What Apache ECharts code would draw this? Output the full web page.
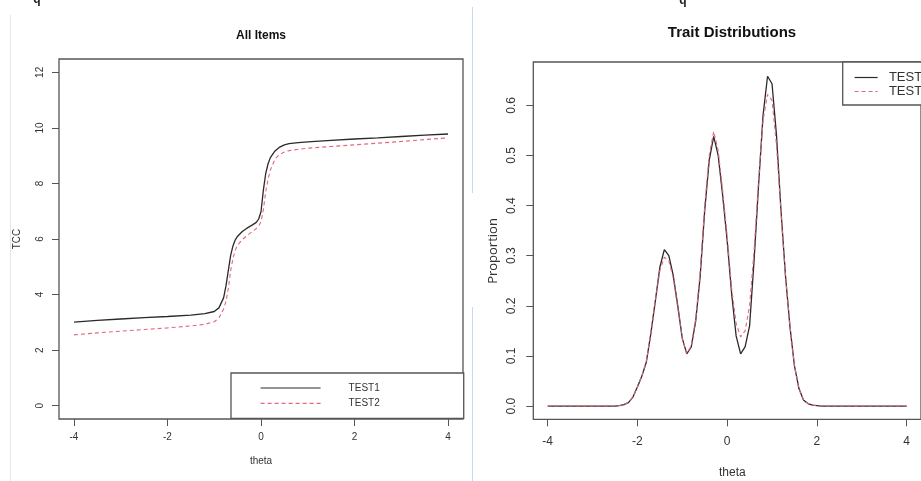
<!DOCTYPE html>
<html>
<head>
<meta charset="utf-8">
<script src="https://cdn.jsdelivr.net/npm/echarts@6/dist/echarts.min.js"></script>
<style>
html,body{margin:0;padding:0;background:#fff;}
#c{width:921px;height:481px;}
</style>
</head>
<body>
<div id="c"></div>
<script>
// ---- Left panel: test characteristic curves ----
var tccTheta = [-4, -3.5, -3, -2.5, -2, -1.5, -1.2, -1.0, -0.9, -0.8, -0.75, -0.7, -0.65, -0.6, -0.55, -0.5, -0.4, -0.3, -0.2, -0.1, -0.05, 0.0, 0.05, 0.1, 0.15, 0.2, 0.3, 0.4, 0.5, 0.6, 0.8, 1.0, 1.5, 2.0, 2.5, 3.0, 3.5, 4.0];
var tccTest1 = [3.01, 3.07, 3.12, 3.17, 3.21, 3.26, 3.31, 3.39, 3.52, 3.88, 4.3, 4.85, 5.4, 5.75, 5.97, 6.1, 6.27, 6.39, 6.49, 6.6, 6.72, 6.98, 7.75, 8.35, 8.7, 8.93, 9.17, 9.31, 9.39, 9.43, 9.47, 9.5, 9.55, 9.6, 9.64, 9.69, 9.74, 9.78];
var tccTest2 = [2.55, 2.62, 2.68, 2.74, 2.80, 2.87, 2.93, 3.02, 3.15, 3.48, 3.75, 4.2, 4.85, 5.3, 5.6, 5.78, 5.98, 6.12, 6.25, 6.38, 6.47, 6.62, 7.05, 7.7, 8.15, 8.48, 8.88, 9.05, 9.13, 9.18, 9.23, 9.27, 9.33, 9.39, 9.45, 9.51, 9.58, 9.64];
var tccXTicks = [-4, -2, 0, 2, 4];
var tccYTicks = [0, 2, 4, 6, 8, 10, 12];

// ---- Right panel: trait distributions ----
var distTheta = [-4, -3, -2.5, -2.4, -2.3, -2.2, -2.1, -2.0, -1.9, -1.8, -1.7, -1.6, -1.5, -1.4, -1.3, -1.2, -1.1, -1.0, -0.9, -0.8, -0.7, -0.6, -0.5, -0.4, -0.3, -0.2, -0.1, 0.0, 0.1, 0.2, 0.3, 0.4, 0.5, 0.6, 0.7, 0.8, 0.9, 1.0, 1.1, 1.2, 1.3, 1.4, 1.5, 1.6, 1.7, 1.8, 1.9, 2.0, 2.1, 3, 4];
var distTest1 = [0, 0, 0, 0.001, 0.003, 0.007, 0.018, 0.038, 0.06, 0.088, 0.145, 0.21, 0.277, 0.312, 0.30, 0.26, 0.20, 0.135, 0.104, 0.118, 0.17, 0.26, 0.39, 0.49, 0.538, 0.50, 0.42, 0.33, 0.224, 0.14, 0.104, 0.118, 0.16, 0.29, 0.44, 0.58, 0.658, 0.643, 0.54, 0.39, 0.26, 0.158, 0.08, 0.035, 0.012, 0.005, 0.002, 0.001, 0, 0, 0];
var distTest2 = [0, 0, 0, 0.001, 0.003, 0.007, 0.018, 0.038, 0.06, 0.09, 0.145, 0.21, 0.27, 0.297, 0.29, 0.255, 0.195, 0.135, 0.105, 0.12, 0.175, 0.27, 0.40, 0.50, 0.548, 0.51, 0.43, 0.34, 0.235, 0.165, 0.138, 0.15, 0.2, 0.31, 0.45, 0.57, 0.622, 0.61, 0.52, 0.385, 0.26, 0.16, 0.08, 0.035, 0.013, 0.005, 0.002, 0.001, 0, 0, 0];
var distXTicks = [-4, -2, 0, 2, 4];
var distYTicks = [0, 0.1, 0.2, 0.3, 0.4, 0.5, 0.6];

var seriesNames = ['TEST1', 'TEST2'];

function pairs(xs, ys){ return xs.map(function(x,i){ return [x, ys[i]]; }); }

var FONT = '"Liberation Sans", Arial, sans-serif';
var BOX = '#555';
var TXT = '#333';
var BLACK = '#2a2a2a';
var RED = '#E5677D';

function xAx(grid, ticks, fs, margin){
  return {
    type:'value', gridIndex:grid, min:-4.32, max:4.32,
    axisLine:{show:false, onZero:false}, splitLine:{show:false},
    axisTick:{show:true, customValues:ticks, length:7, lineStyle:{color:BOX, width:1}},
    axisLabel:{customValues:ticks, fontSize:fs, fontFamily:FONT, color:TXT, margin:margin}
  };
}
function yAx(grid, ticks, min, max, fs, margin, fmt){
  return {
    type:'value', gridIndex:grid, min:min, max:max,
    axisLine:{show:false, onZero:false}, splitLine:{show:false},
    axisTick:{show:true, customValues:ticks, length:7, lineStyle:{color:BOX, width:1}},
    axisLabel:{customValues:ticks, fontSize:fs, fontFamily:FONT, color:TXT, margin:margin, rotate:90, formatter:fmt}
  };
}

var chart = echarts.init(document.getElementById('c'), null, {renderer:'canvas'});
chart.setOption({
  animation:false,
  backgroundColor:'#fff',
  grid:[
    {left:59, top:59, width:404, height:360, show:true, borderColor:BOX, borderWidth:1.3, backgroundColor:'transparent'},
    {left:533.3, top:62, width:397.4, height:357.3, show:true, borderColor:BOX, borderWidth:1.3, backgroundColor:'transparent'}
  ],
  xAxis:[ xAx(0, tccXTicks, 10, 13), xAx(1, distXTicks, 12, 16) ],
  yAxis:[
    yAx(0, tccYTicks, -0.48, 12.48, 10, 14, function(v){return String(v);}),
    yAx(1, distYTicks, -0.0264, 0.6864, 12, 16, function(v){return v.toFixed(1);})
  ],
  legend:[
    {
      data:seriesNames, orient:'vertical', left:231, top:373,
      itemStyle:{opacity:0, borderWidth:0}, lineStyle:{width:1.2},
      padding:[10, 84, 10, 29], itemWidth:60, itemHeight:10, itemGap:5.4,
      borderColor:BOX, borderWidth:1.3, backgroundColor:'#fff',
      textStyle:{fontSize:10, fontFamily:FONT, color:TXT, padding:[0,0,0,23]},
      selectedMode:false
    },
    {
      data:seriesNames, orient:'vertical', left:842.7, top:62,
      itemStyle:{opacity:0, borderWidth:0}, lineStyle:{width:1.2},
      padding:[9, 20, 7, 11.3], itemWidth:23, itemHeight:14, itemGap:1,
      borderColor:BOX, borderWidth:1.3, backgroundColor:'#fff',
      textStyle:{fontSize:13, fontFamily:FONT, color:TXT, padding:[0,0,0,6.3]},
      selectedMode:false
    }
  ],
  series:[
    {name:seriesNames[0], type:'line', xAxisIndex:0, yAxisIndex:0, data:pairs(tccTheta, tccTest1), symbol:'none', lineStyle:{color:BLACK, width:1.3}, itemStyle:{color:BLACK}},
    {name:seriesNames[1], type:'line', xAxisIndex:0, yAxisIndex:0, data:pairs(tccTheta, tccTest2), symbol:'none', lineStyle:{color:RED, width:1.1, type:[4,3]}, itemStyle:{color:RED}},
    {name:seriesNames[0], type:'line', xAxisIndex:1, yAxisIndex:1, data:pairs(distTheta, distTest1), symbol:'none', lineStyle:{color:BLACK, width:1.3}, itemStyle:{color:BLACK}},
    {name:seriesNames[1], type:'line', xAxisIndex:1, yAxisIndex:1, data:pairs(distTheta, distTest2), symbol:'none', lineStyle:{color:RED, width:1.1, type:[4,3]}, itemStyle:{color:RED}}
  ],
  graphic:[
    {type:'line', shape:{x1:10.5,y1:15,x2:10.5,y2:481}, style:{stroke:'#e6e6e6', lineWidth:1}, silent:true},
    {type:'line', shape:{x1:472.5,y1:7,x2:472.5,y2:193}, style:{stroke:'#c9d8ee', lineWidth:1}, silent:true},
    {type:'line', shape:{x1:472.5,y1:307,x2:472.5,y2:481}, style:{stroke:'#c9d8ee', lineWidth:1}, silent:true},
    {type:'text', x:37, y:6, style:{text:'q', font:'bold 12px '+FONT, fill:'#222', textAlign:'center', textVerticalAlign:'bottom'}, silent:true},
    {type:'text', x:683, y:7, style:{text:'q', font:'bold 12px '+FONT, fill:'#222', textAlign:'center', textVerticalAlign:'bottom'}, silent:true},
    {type:'text', x:261, y:35.7, style:{text:'All Items', font:'bold 12px '+FONT, fill:'#111', textAlign:'center', textVerticalAlign:'middle'}},
    {type:'text', x:732, y:32.7, style:{text:'Trait Distributions', font:'bold 15px '+FONT, fill:'#111', textAlign:'center', textVerticalAlign:'middle'}},
    {type:'text', x:261, y:461, style:{text:'theta', font:'10px '+FONT, fill:TXT, textAlign:'center', textVerticalAlign:'middle'}},
    {type:'text', x:732.3, y:472.3, style:{text:'theta', font:'12px '+FONT, fill:TXT, textAlign:'center', textVerticalAlign:'middle'}},
    {type:'text', x:17.5, y:239, rotation:Math.PI/2, style:{text:'TCC', font:'10px '+FONT, fill:TXT, textAlign:'center', textVerticalAlign:'middle'}},
    {type:'text', x:493, y:251, rotation:Math.PI/2, style:{text:'Proportion', font:'13px "Open Sans", sans-serif', fill:TXT, textAlign:'center', textVerticalAlign:'middle'}}
  ]
});
</script>
</body>
</html>
